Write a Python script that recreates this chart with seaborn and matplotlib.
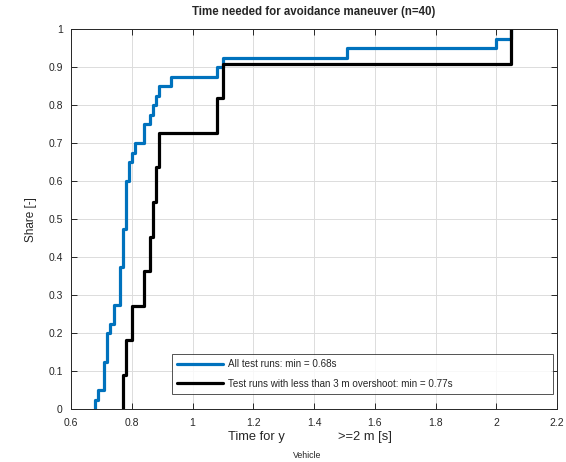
import numpy as np
import pandas as pd
import matplotlib
matplotlib.use("Agg")
import matplotlib.pyplot as plt
import seaborn as sns

# Times (s) for y_Vehicle >= 2 m, all test runs (n=40)
all_runs = ([0.68, 0.69] + [0.71] * 3 + [0.72] * 3 + [0.73] + [0.74] * 2 +
            [0.76] * 4 + [0.77] * 4 + [0.78] * 5 + [0.79] * 2 + [0.80, 0.81] +
            [0.84] * 2 + [0.86, 0.87, 0.88, 0.89, 0.93, 1.08, 1.10, 1.51, 2.00, 2.05])
# Runs with less than 3 m overshoot (n=11)
low_overshoot = [0.77, 0.78, 0.80, 0.84, 0.86, 0.87, 0.88, 0.89, 1.08, 1.10, 2.05]

label_all = "All test runs: min = %.2fs" % min(all_runs)
label_low = "Test runs with less than 3 m overshoot: min = %.2fs" % min(low_overshoot)

x_ticks = [0.6, 0.8, 1.0, 1.2, 1.4, 1.6, 1.8, 2.0, 2.2]
x_tick_labels = ["0.6", "0.8", "1", "1.2", "1.4", "1.6", "1.8", "2", "2.2"]
y_ticks = [0, 0.1, 0.2, 0.3, 0.4, 0.5, 0.6, 0.7, 0.8, 0.9, 1.0]
y_tick_labels = ["0", "0.1", "0.2", "0.3", "0.4", "0.5", "0.6", "0.7", "0.8", "0.9", "1"]

sns.set_theme(style="ticks")
plt.rcParams['font.family'] = ['Liberation Sans', 'DejaVu Sans']

fig = plt.figure(figsize=(5.66, 4.62), dpi=100)
ax = fig.add_axes([71 / 566, 1 - 409.3 / 462, (557 - 71) / 566, (409.3 - 29.3) / 462])

blue = "#0072BD"
sns.ecdfplot(x=all_runs, ax=ax, color=blue, linewidth=2.3, label=label_all)
sns.ecdfplot(x=low_overshoot, ax=ax, color="black", linewidth=2.3, label=label_low)

# start each stair at its minimum value instead of -inf
for ln in ax.get_lines():
    xd = np.asarray(ln.get_xdata(), dtype=float).copy()
    yd = np.asarray(ln.get_ydata(), dtype=float)
    if len(xd) > 1 and not np.isfinite(xd[0]):
        xd[0] = xd[1]
    ln.set_data(xd, yd)

ax.set_xlim(0.6, 2.2)
ax.set_ylim(0, 1)
ax.set_xticks(x_ticks)
ax.set_xticklabels(x_tick_labels)
ax.set_yticks(y_ticks)
ax.set_yticklabels(y_tick_labels)
ax.grid(True, color="#dcdcdc", linewidth=0.7)
ax.set_axisbelow(True)
for s in ax.spines.values():
    s.set_visible(True)
    s.set_color("#262626")
    s.set_linewidth(0.7)
ax.tick_params(direction="in", length=4, width=0.7, colors="#262626",
               labelsize=7.5, top=True, right=True, pad=6)

ax.set_title("Time needed for avoidance maneuver (n=40)", fontsize=8.3,
             fontweight="bold", pad=10)
ax.set_ylabel("Share [-]", fontsize=8.5, labelpad=8)

# x label drawn MATLAB-style with a detached subscript
fig.text(285 / 566, 1 - 437 / 462, "Time for y", ha="right", va="center",
         fontsize=9.3, color="#262626")
fig.text(293 / 566, 1 - 455 / 462, "Vehicle", ha="left", va="center",
         fontsize=6.3, color="#262626")
fig.text(338 / 566, 1 - 437 / 462, ">=2 m [s]", ha="left", va="center",
         fontsize=9.3, color="#262626")

x0, x1 = 172 / 566, 553 / 566
y0, y1 = 1 - 394 / 462, 1 - 352 / 462
leg = ax.legend(loc="lower left", bbox_to_anchor=(x0, y0, x1 - x0, y1 - y0),
                bbox_transform=fig.transFigure, mode="expand", borderaxespad=0,
                fontsize=7.1, frameon=True, fancybox=False, edgecolor="#262626",
                handlelength=4.6, handletextpad=0.5, borderpad=0.55,
                labelspacing=0.95)
leg.get_frame().set_linewidth(0.7)
fig.savefig("out.png", dpi=100)
